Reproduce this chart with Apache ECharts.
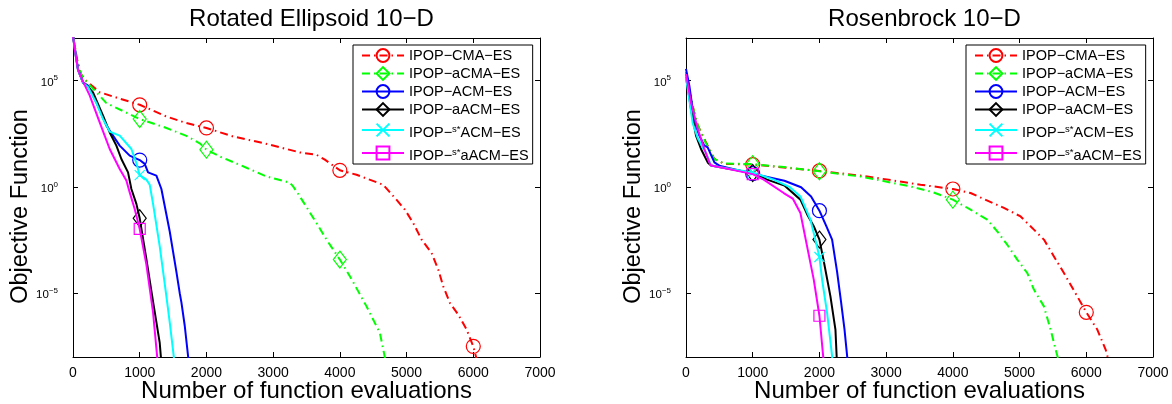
<!DOCTYPE html>
<html>
<head>
<meta charset="utf-8">
<script src="https://cdn.jsdelivr.net/npm/echarts@6/dist/echarts.min.js"></script>
<style>
html,body{margin:0;padding:0;background:#fff;}
#c{width:1172px;height:404px;}
</style>
</head>
<body>
<div id="c"></div>
<script>
// ---- data: [function evaluations, log10(objective function)] ----
const titles = ['Rotated Ellipsoid 10\u2212D', 'Rosenbrock 10\u2212D'];
const seriesNames = ['IPOP\u2212CMA\u2212ES', 'IPOP\u2212aCMA\u2212ES', 'IPOP\u2212ACM\u2212ES', 'IPOP\u2212aACM\u2212ES', 'IPOP\u2212s*ACM\u2212ES', 'IPOP\u2212s*aACM\u2212ES'];
const xTicks = [0, 1000, 2000, 3000, 4000, 5000, 6000, 7000];
const yTickExp = [-5, 0, 5];
const markerEvery = 1000;

// Rotated Ellipsoid 10-D
const ellCMA = [[0,7.1],[60,6.0],[120,5.3],[175,5.05],[400,4.45],[700,4.15],[1000,3.86],[1400,3.31],[1700,3.0],[2000,2.77],[2400,2.37],[2850,2.06],[3400,1.62],[3650,1.51],[3775,1.28],[4000,0.78],[4250,0.57],[4650,0.10],[4825,-0.52],[4975,-1.07],[5100,-1.7],[5225,-2.48],[5375,-3.11],[5475,-3.89],[5550,-4.68],[5650,-5.46],[5775,-6.01],[5900,-6.71],[6000,-7.5],[6050,-8.1]];
const ellACMA = [[0,7.1],[60,6.0],[120,5.3],[175,5.04],[500,3.94],[1000,3.19],[1400,2.77],[1700,2.4],[1900,2.05],[2000,1.75],[2200,1.43],[2600,0.9],[2900,0.49],[3250,0.2],[3300,0.02],[3400,-0.45],[3650,-1.70],[3800,-2.48],[4000,-3.42],[4150,-4.2],[4400,-5.62],[4600,-6.87],[4680,-8.1]];
const ellACM = [[0,7.1],[30,6.5],[75,5.54],[150,4.91],[225,4.76],[350,3.97],[500,2.88],[700,1.94],[850,1.47],[1000,1.26],[1075,1.08],[1125,0.68],[1250,0.53],[1325,-0.1],[1400,-1.3],[1450,-2.1],[1550,-4.0],[1600,-5.0],[1625,-5.43],[1675,-6.53],[1730,-8.1]];
const ellAACM = [[0,7.1],[30,6.4],[75,5.5],[150,4.9],[225,4.7],[300,4.44],[450,3.35],[550,2.56],[650,1.94],[725,1.31],[825,0.68],[875,-0.1],[950,-0.8],[1000,-1.48],[1100,-3.4],[1200,-5.4],[1300,-7.34],[1320,-8.1]];
const ellSACM = [[0,7.1],[30,6.4],[75,5.5],[150,4.9],[225,4.7],[350,3.95],[450,3.19],[550,2.6],[700,2.41],[875,1.78],[950,1.12],[1000,0.55],[1100,0.34],[1150,0.1],[1200,-0.8],[1300,-2.8],[1400,-5.15],[1450,-6.37],[1515,-8.1]];
const ellSAACM = [[0,7.1],[30,6.4],[75,5.5],[150,4.95],[250,4.3],[400,3.03],[550,1.78],[700,0.84],[800,0.3],[850,-0.26],[925,-1.04],[1000,-1.98],[1100,-3.65],[1200,-5.9],[1265,-8.1]];

// Rosenbrock 10-D
const rosCMA = [[0,5.4],[50,4.5],[115,3.6],[175,2.9],[275,2.25],[425,1.31],[575,1.08],[1000,1.05],[1500,0.9],[2000,0.75],[2715,0.49],[3515,0.1],[4000,-0.1],[4265,-0.29],[4765,-0.99],[5015,-1.39],[5215,-2.01],[5365,-2.48],[5515,-3.27],[5665,-4.05],[5865,-5.15],[6000,-5.9],[6165,-6.71],[6290,-7.65],[6330,-8.1]];
const rosACMA = [[0,5.4],[50,4.5],[115,3.6],[175,2.9],[275,2.2],[425,1.3],[575,1.1],[1000,1.07],[1500,0.92],[2000,0.73],[2615,0.49],[3365,0.02],[3700,-0.25],[4000,-0.6],[4265,-1.07],[4515,-1.54],[4665,-2.09],[4815,-2.72],[4965,-3.42],[5115,-4.05],[5215,-4.83],[5365,-5.62],[5465,-6.71],[5540,-7.65],[5580,-8.1]];
const rosACM = [[0,5.55],[50,4.76],[100,3.66],[150,2.88],[200,2.41],[275,1.94],[325,1.86],[425,1.15],[500,1.0],[700,0.84],[1000,0.62],[1475,0.29],[1725,-0.02],[1875,-0.45],[2000,-1.12],[2100,-1.82],[2190,-2.48],[2265,-4.0],[2325,-5.43],[2375,-6.68],[2420,-8.1]];
const rosAACM = [[0,5.15],[40,4.4],[75,3.66],[150,2.41],[225,1.78],[325,1.15],[375,1.0],[700,0.82],[1000,0.65],[1215,0.34],[1475,0.06],[1715,-0.6],[1825,-1.35],[1915,-1.85],[2000,-2.48],[2065,-3.5],[2165,-5.15],[2240,-6.71],[2260,-8.1]];
const rosSACM = [[0,5.15],[40,4.3],[100,3.0],[175,2.3],[250,1.85],[300,1.6],[375,1.0],[700,0.83],[1000,0.68],[1315,0.34],[1550,0.0],[1715,-0.45],[1865,-1.54],[1940,-2.5],[2000,-3.3],[2040,-4.36],[2115,-5.93],[2195,-8.1]];
const rosSAACM = [[0,5.3],[75,3.97],[175,2.72],[275,1.78],[350,1.15],[375,1.0],[700,0.8],[1000,0.6],[1165,0.34],[1465,-0.29],[1600,-0.55],[1715,-1.23],[1815,-2.8],[1915,-4.36],[2000,-6.06],[2060,-8.1]];

const panels = [
  [ellCMA, ellACMA, ellACM, ellAACM, ellSACM, ellSAACM],
  [rosCMA, rosACMA, rosACM, rosAACM, rosSACM, rosSAACM]
];

// ---- styles ----
const FONT = '"Liberation Sans", Arial, Helvetica, sans-serif';
const dashDot = [8, 4, 1.5, 4];
const looks = [
  {color:'#ff0000', type:dashDot, symbol:'circle', size:14},
  {color:'#00ff00', type:dashDot, symbol:'diamond', size:[13,17]},
  {color:'#0000ff', type:'solid', symbol:'circle', size:14},
  {color:'#000000', type:'solid', symbol:'diamond', size:[13,17]},
  {color:'#00ffff', type:'solid', symbol:'path://M0,0L10,10M10,0L0,10', size:10},
  {color:'#ff00ff', type:'solid', symbol:'rect', size:11}
];
const gridLeft = [73, 686];
const gridW = 467, gridTop = 38, gridH = 319;

function supExp(v){
  const s = v < 0 ? '\u2212' + Math.abs(v) : String(v);
  return '{b|10}{s|' + s + '}';
}

const option = {
  animation: false,
  backgroundColor: '#fff',
  textStyle: {fontFamily: FONT},
  title: titles.map((t, i) => ({
    text: t, left: gridLeft[i] + gridW / 2, top: 2, textAlign: 'center',
    textStyle: {fontFamily: FONT, fontSize: 24, fontWeight: 'normal', color: '#000'}
  })),
  grid: gridLeft.map(l => ({left: l, top: gridTop, width: gridW, height: gridH,
    containLabel: false, outerBoundsMode: 'none'})),
  legend: gridLeft.map((l, i) => ({
    orient: 'vertical', left: l + 280, top: 45,
    itemWidth: 42, itemHeight: 16, itemGap: 3,
    padding: [3, 4, 1, 8],
    borderColor: '#000', borderWidth: 1, backgroundColor: '#fff',
    data: seriesNames,
    formatter: function(name){
      if (name.indexOf('s*') >= 0) {
        const p = name.split('s*');
        return '{n|' + p[0] + '}{sup|s*}{n|' + p[1] + '}';
      }
      return '{n|' + name + '}';
    },
    textStyle: {
      fontFamily: FONT, fontSize: 14.5, color: '#000',
      rich: {
        n: {fontFamily: FONT, fontSize: 14.5, height: 15, lineHeight: 15, verticalAlign: 'bottom', color: '#000'},
        sup: {fontFamily: FONT, fontSize: 9.5, height: 18, lineHeight: 20, verticalAlign: 'top', color: '#000'}
      }
    }
  })),
  xAxis: [],
  yAxis: [],
  series: []
};

gridLeft.forEach((l, gi) => {
  const axisLine = {show: true, onZero: false, lineStyle: {color: '#000', width: 1}};
  option.xAxis.push({
    gridIndex: gi, type: 'value', position: 'bottom',
    min: xTicks[0], max: xTicks[xTicks.length - 1], interval: xTicks[1] - xTicks[0],
    axisLine: axisLine,
    axisTick: {show: true, inside: true, length: 5, lineStyle: {color: '#000'}},
    axisLabel: {show: true, fontFamily: FONT, fontSize: 14, color: '#000', margin: 9,
      formatter: v => String(v)},
    splitLine: {show: false},
    name: 'Number of function evaluations', nameLocation: 'middle', nameGap: 22,
    nameMoveOverlap: false,
    nameTextStyle: {fontFamily: FONT, fontSize: 24, color: '#000'}
  });
  option.xAxis.push({
    gridIndex: gi, type: 'value', position: 'top',
    min: xTicks[0], max: xTicks[xTicks.length - 1], interval: xTicks[1] - xTicks[0],
    axisLine: axisLine,
    axisTick: {show: true, inside: true, length: 5, lineStyle: {color: '#000'}},
    axisLabel: {show: false}, splitLine: {show: false}
  });
  option.yAxis.push({
    gridIndex: gi, type: 'value', position: 'left', min: -8, max: 7,
    axisLine: axisLine,
    axisTick: {show: true, inside: true, length: 5, customValues: yTickExp, lineStyle: {color: '#000'}},
    axisLabel: {
      show: true, customValues: yTickExp, margin: 15, color: '#000',
      formatter: supExp,
      rich: {
        b: {fontFamily: FONT, fontSize: 11.5, height: 12, lineHeight: 16, verticalAlign: 'bottom', color: '#000'},
        s: {fontFamily: FONT, fontSize: 8, height: 11, lineHeight: 16, verticalAlign: 'top', color: '#000'}
      }
    },
    splitLine: {show: false},
    name: 'Objective Function', nameLocation: 'middle', nameGap: 34, nameRotate: 90,
    nameTextStyle: {fontFamily: FONT, fontSize: 23.5, color: '#000', padding: [0, 18, 0, 0]}
  });
  option.yAxis.push({
    gridIndex: gi, type: 'value', position: 'right', min: -8, max: 7,
    axisLine: axisLine,
    axisTick: {show: true, inside: true, length: 5, customValues: yTickExp, lineStyle: {color: '#000'}},
    axisLabel: {show: false}, splitLine: {show: false}
  });

  panels[gi].forEach((data, si) => {
    const lk = looks[si];
    option.series.push({
      name: seriesNames[si], type: 'line',
      xAxisIndex: gi * 2, yAxisIndex: gi * 2,
      data: data, clip: true,
      showSymbol: true, showAllSymbol: true,
      symbol: lk.symbol,
      symbolSize: function(v){ return (v[0] > 0 && v[0] % markerEvery === 0) ? lk.size : 0; },
      itemStyle: {color: 'rgba(0,0,0,0)', borderColor: lk.color, borderWidth: 1.2},
      lineStyle: {color: lk.color, width: 2, type: lk.type},
      emphasis: {disabled: true},
      z: 2 + si
    });
  });
});

const chart = echarts.init(document.getElementById('c'), null, {renderer: 'canvas'});
chart.setOption(option);
</script>
</body>
</html>
